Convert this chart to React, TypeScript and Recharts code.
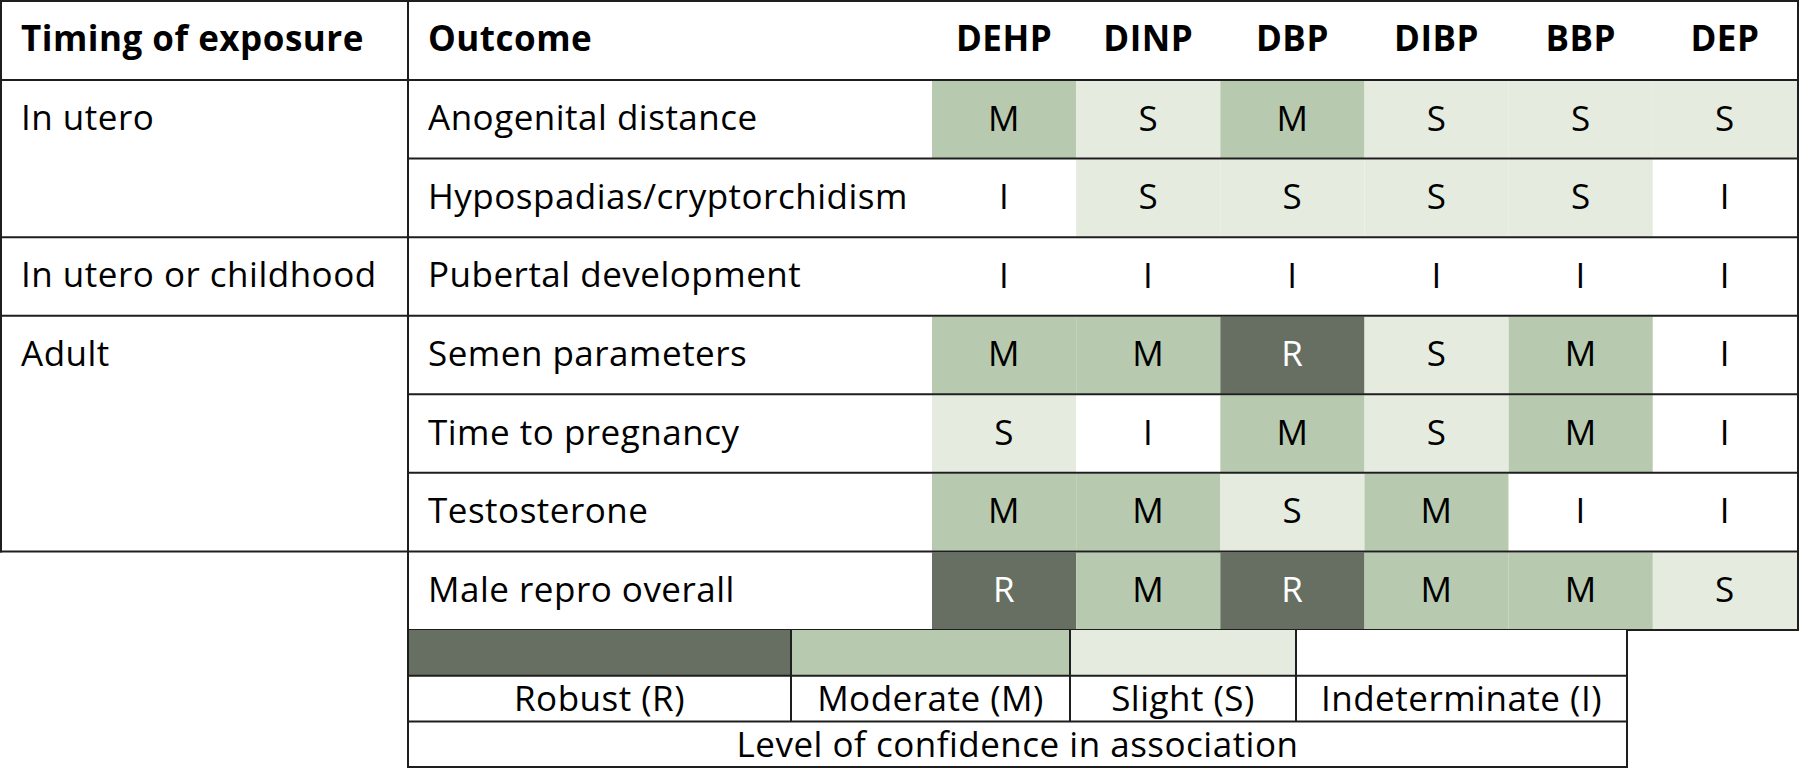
import React from "react";
import { BarChart, Bar, XAxis, YAxis, Cell, LabelList, Legend } from "recharts";

// table data
const chemicals = ["DEHP", "DINP", "DBP", "DIBP", "BBP", "DEP"];
const outcomes = [
  "Anogenital distance",
  "Hypospadias/cryptorchidism",
  "Pubertal development",
  "Semen parameters",
  "Time to pregnancy",
  "Testosterone",
  "Male repro overall",
];
const timingLabels = ["In utero", "In utero or childhood", "Adult"];
const timingSpans = [2, 1, 3];
const levels = [
  ["M", "S", "M", "S", "S", "S"],
  ["I", "S", "S", "S", "S", "I"],
  ["I", "I", "I", "I", "I", "I"],
  ["M", "M", "R", "S", "M", "I"],
  ["S", "I", "M", "S", "M", "I"],
  ["M", "M", "S", "M", "I", "I"],
  ["R", "M", "R", "M", "M", "S"],
];
const levelKeys = ["R", "M", "S", "I"];
const levelNames = ["Robust (R)", "Moderate (M)", "Slight (S)", "Indeterminate (I)"];
const levelColors = ["#666f62", "#b7c9ae", "#e5ebdf", "#ffffff"];
const legendTitle = "Level of confidence in association";

// layout
const W = 1800;
const H = 769;
const HEADER_H = 80;
const COL1_X = 408;
const DATA_X = 932;
const RIGHT = 1797;
const PLOT_BOTTOM = 630;
const LEGEND_ROW = 45.7;
const LEGEND_WIDTHS = [383, 279, 226, 331];
const PAD = 20;
const FONT = "'Open Sans', sans-serif";
const FS = 35;
const DY = -2.5;
const LINE = "#1e1e1e";
const ROW_H = (PLOT_BOTTOM - HEADER_H) / outcomes.length;

const colorOf = (lvl: string) => levelColors[levelKeys.indexOf(lvl)];

const rows = outcomes.map((outcome, i) => {
  const row: any = { outcome };
  chemicals.forEach((c, j) => {
    row[c] = 1;
    row[`${c}_lvl`] = levels[i][j];
  });
  return row;
});

const groupStartLabel: Record<number, string> = {};
const groupEndRows = new Set<number>();
let cursor = 0;
timingSpans.forEach((span, g) => {
  groupStartLabel[cursor] = timingLabels[g];
  cursor += span;
  groupEndRows.add(cursor - 1);
});
const groupedRows = cursor;

const txt = {
  fontFamily: FONT,
  fontSize: FS,
  letterSpacing: 0.5,
  fill: "#000",
  dominantBaseline: "central" as const,
};

function Frame() {
  const leftBottom = HEADER_H + groupedRows * ROW_H;
  return (
    <g stroke={LINE} strokeWidth={2}>
      <line x1={0} x2={RIGHT + 1} y1={1} y2={1} />
      <line x1={0} x2={RIGHT + 1} y1={HEADER_H} y2={HEADER_H} />
      <line x1={1} x2={1} y1={0} y2={leftBottom + 1} />
      <line x1={COL1_X} x2={COL1_X} y1={0} y2={PLOT_BOTTOM} />
      <line x1={RIGHT + 1} x2={RIGHT + 1} y1={0} y2={PLOT_BOTTOM + 1} />
    </g>
  );
}

function HeaderTick(props: any) {
  const { x, payload } = props;
  const col = Math.floor(payload.value);
  const cy = HEADER_H / 2 + DY;
  return (
    <g>
      {col === 0 && (
        <g>
          <Frame />
          <text x={PAD + 1} y={cy} fontWeight="bold" {...txt}>
            Timing of exposure
          </text>
          <text x={COL1_X + PAD} y={cy} fontWeight="bold" {...txt}>
            Outcome
          </text>
        </g>
      )}
      <text x={x} y={cy} textAnchor="middle" fontWeight="bold" {...txt}>
        {chemicals[col]}
      </text>
    </g>
  );
}

function OutcomeTick(props: any) {
  const { y, payload } = props;
  const idx = outcomes.indexOf(payload.value);
  const bottom = y + ROW_H / 2;
  const full = groupEndRows.has(idx);
  return (
    <g>
      {groupStartLabel[idx] && (
        <text x={PAD + 1} y={y + DY} {...txt}>
          {groupStartLabel[idx]}
        </text>
      )}
      <text x={COL1_X + PAD} y={y + DY} {...txt}>
        {payload.value}
      </text>
      <line x1={full ? 0 : COL1_X} x2={RIGHT + 1} y1={bottom} y2={bottom} stroke={LINE} strokeWidth={2} />
    </g>
  );
}

const renderLevel = (props: any) => {
  const { x, y, width, height, value } = props;
  return (
    <text
      x={x + width / 2}
      y={y + height / 2 + DY}
      textAnchor="middle"
      {...txt}
      fill={value === "R" ? "#fff" : "#000"}
    >
      {value}
    </text>
  );
};

function LegendTable() {
  const total = LEGEND_WIDTHS.reduce((a, b) => a + b, 0);
  const top = PLOT_BOTTOM;
  const xs: number[] = [COL1_X];
  LEGEND_WIDTHS.forEach((w) => xs.push(xs[xs.length - 1] + w));
  const rowYs = [top, top + LEGEND_ROW, top + 2 * LEGEND_ROW, top + 3 * LEGEND_ROW];
  return (
    <svg width={W} height={H} style={{ display: "block" }}>
      {levelKeys.map((k, i) => (
        <rect key={k} x={xs[i]} y={rowYs[0]} width={LEGEND_WIDTHS[i]} height={LEGEND_ROW} fill={levelColors[i]} />
      ))}
      {levelNames.map((n, i) => (
        <text key={n} x={xs[i] + LEGEND_WIDTHS[i] / 2} y={rowYs[1] + LEGEND_ROW / 2 - 1} textAnchor="middle" {...txt}>
          {n}
        </text>
      ))}
      <text x={COL1_X + total / 2} y={rowYs[2] + LEGEND_ROW / 2 - 1} textAnchor="middle" {...txt}>
        {legendTitle}
      </text>
      <g stroke={LINE} strokeWidth={2}>
        {rowYs.slice(1).map((yy) => (
          <line key={yy} x1={COL1_X} x2={COL1_X + total} y1={yy} y2={yy} />
        ))}
        {xs.map((xx, i) => (
          <line
            key={xx}
            x1={xx}
            x2={xx}
            y1={top}
            y2={i === 0 || i === xs.length - 1 ? rowYs[3] + 1 : rowYs[2]}
          />
        ))}
      </g>
    </svg>
  );
}

export default function App() {
  return (
    <div style={{ width: W, height: H, background: "#fff" }}>
      <style>{"body{margin:0;}"}</style>
      <BarChart
        width={W}
        height={H}
        data={rows}
        layout="vertical"
        margin={{ top: 0, right: W - RIGHT, bottom: H - PLOT_BOTTOM, left: COL1_X }}
        barCategoryGap={1}
      >
        <XAxis
          type="number"
          orientation="top"
          domain={[0, chemicals.length]}
          ticks={chemicals.map((_, i) => i + 0.5)}
          interval={0}
          height={HEADER_H}
          axisLine={false}
          tickLine={false}
          tick={<HeaderTick />}
        />
        <YAxis
          type="category"
          dataKey="outcome"
          width={DATA_X - COL1_X}
          interval={0}
          axisLine={false}
          tickLine={false}
          tick={<OutcomeTick />}
        />
        {chemicals.map((c, j) => (
          <Bar key={c} dataKey={c} name={c} stackId="row" isAnimationActive={false}>
            {rows.map((r, i) => (
              <Cell key={`${c}-${i}`} fill={colorOf(levels[i][j])} />
            ))}
            <LabelList dataKey={`${c}_lvl`} content={renderLevel} />
          </Bar>
        ))}
        <Legend
          layout="horizontal"
          verticalAlign="middle"
          align="center"
          content={<LegendTable />}
          wrapperStyle={{ top: 0, left: 0, width: W, height: H, pointerEvents: "none" }}
        />
      </BarChart>
    </div>
  );
}
